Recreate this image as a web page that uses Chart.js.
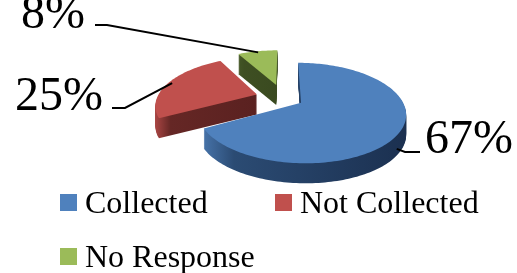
<!DOCTYPE html>
<html>
<head>
<meta charset="utf-8">
<script src="https://cdn.jsdelivr.net/npm/chart.js@4.4.1/dist/chart.umd.min.js"></script>
<style>
  html, body { margin: 0; padding: 0; background: #fff; }
  #chart { display: block; }
</style>
</head>
<body>
<canvas id="chart" width="517" height="273"></canvas>
<script>
const categories = ['Collected', 'Not Collected', 'No Response'];
const shares = [67, 25, 8];
const topColors = ['#4f81bd', '#c0504d', '#9bbb59'];
const sideColors = [
    ['#4672a8', '#2b4b73', '#1b3050'],
    ['#a84543', '#652725', '#5a2120'],
    ['#435626', '#3e4f22', '#3a4a20'],
];
const explode = [20, 28, 31];

// look of the tilted pie
const TILT = 0.462;
const PERSP = 500;
const DEPTH = 20;
const FONT = '"Liberation Serif", "Times New Roman", serif';

// where the percent labels and legend go
const labelLayout = [
    { x: 425, base: 153, align: 'left', elbow: [[405, 152], [420, 152]] },
    { x: 103, base: 110, align: 'right', elbow: [[125, 108], [112, 108]] },
    { x: 85, base: 28, align: 'right', elbow: [[107, 25], [95, 25]] },
];
const legendLayout = [
    { x: 60, y: 194 },
    { x: 275, y: 194 },
    { x: 60, y: 248 },
];

function project(a, u, v) {
    const g = 1 / (1 - v / PERSP);
    return [a.x + u * g, a.y + TILT * v * g];
}

function sliceOutline(a, off) {
    const mid = (a.startAngle + a.endAngle) / 2;
    const ox = Math.cos(mid) * off;
    const oy = Math.sin(mid) * off;
    const pts = [project(a, ox, oy)];
    const n = Math.max(8, Math.ceil((a.endAngle - a.startAngle) * 40));
    for (let i = 0; i <= n; i++) {
        const t = a.startAngle + (a.endAngle - a.startAngle) * i / n;
        pts.push(project(a, ox + Math.cos(t) * a.outerRadius, oy + Math.sin(t) * a.outerRadius));
    }
    return pts;
}

function fillPts(ctx, pts, dy, fill) {
    ctx.beginPath();
    pts.forEach(([x, y], i) => (i ? ctx.lineTo(x, y + dy) : ctx.moveTo(x, y + dy)));
    ctx.closePath();
    ctx.fillStyle = fill;
    ctx.fill();
}

const pie3d = {
    id: 'pie3d',
    beforeDatasetsDraw(chart) {
        const ctx = chart.ctx;
        const arcs = chart.getDatasetMeta(0).data;
        // back to front
        [2, 1, 0].forEach((i) => {
            const a = arcs[i];
            const pts = sliceOutline(a, explode[i]);
            const xs = pts.map((p) => p[0]);
            const grad = ctx.createLinearGradient(Math.min(...xs), 0, Math.max(...xs), 0);
            grad.addColorStop(0, sideColors[i][0]);
            grad.addColorStop(0.15, sideColors[i][1]);
            grad.addColorStop(1, sideColors[i][2]);
            if (i === 0) {
                grad.addColorStop(0, sideColors[i][0]);
            }
            ctx.save();
            for (let d = DEPTH; d >= 1; d--) fillPts(ctx, pts, d, grad);
            fillPts(ctx, pts, 0, topColors[i]);
            ctx.restore();
        });
        return false;
    },
    afterDraw(chart) {
        const ctx = chart.ctx;
        const arcs = chart.getDatasetMeta(0).data;
        ctx.save();

        // leader lines + percentages
        arcs.forEach((a, i) => {
            const mid = (a.startAngle + a.endAngle) / 2;
            const r = a.outerRadius * 0.96 + explode[i];
            let [ax, ay] = project(a, Math.cos(mid) * r, Math.sin(mid) * r);
            if (Math.sin(mid) > 0) ay += DEPTH;
            const lay = labelLayout[i];
            ctx.beginPath();
            ctx.moveTo(ax, ay);
            lay.elbow.forEach(([x, y]) => ctx.lineTo(x, y));
            ctx.strokeStyle = '#000';
            ctx.lineWidth = 2;
            ctx.stroke();

            ctx.font = '48px ' + FONT;
            ctx.fillStyle = '#000';
            ctx.textAlign = lay.align;
            ctx.textBaseline = 'alphabetic';
            ctx.fillText(shares[i] + '%', lay.x, lay.base);
        });

        // legend
        ctx.font = '32px ' + FONT;
        ctx.textAlign = 'left';
        categories.forEach((name, i) => {
            const p = legendLayout[i];
            ctx.fillStyle = topColors[i];
            ctx.fillRect(p.x, p.y, 17, 17);
            ctx.fillStyle = '#000';
            ctx.fillText(name, p.x + 25, p.y + 19);
        });
        ctx.restore();
    },
};

new Chart(document.getElementById('chart').getContext('2d'), {
    type: 'pie',
    data: {
        labels: categories,
        datasets: [
            {
                data: shares,
                backgroundColor: topColors,
                borderWidth: 0,
            },
        ],
    },
    options: {
        responsive: false,
        animation: false,
        events: [],
        radius: 100,
        layout: { padding: { left: 50, right: 0, top: 0, bottom: 77 } },
        plugins: { legend: { display: false }, tooltip: { enabled: false } },
    },
    plugins: [pie3d],
});
</script>
</body>
</html>
